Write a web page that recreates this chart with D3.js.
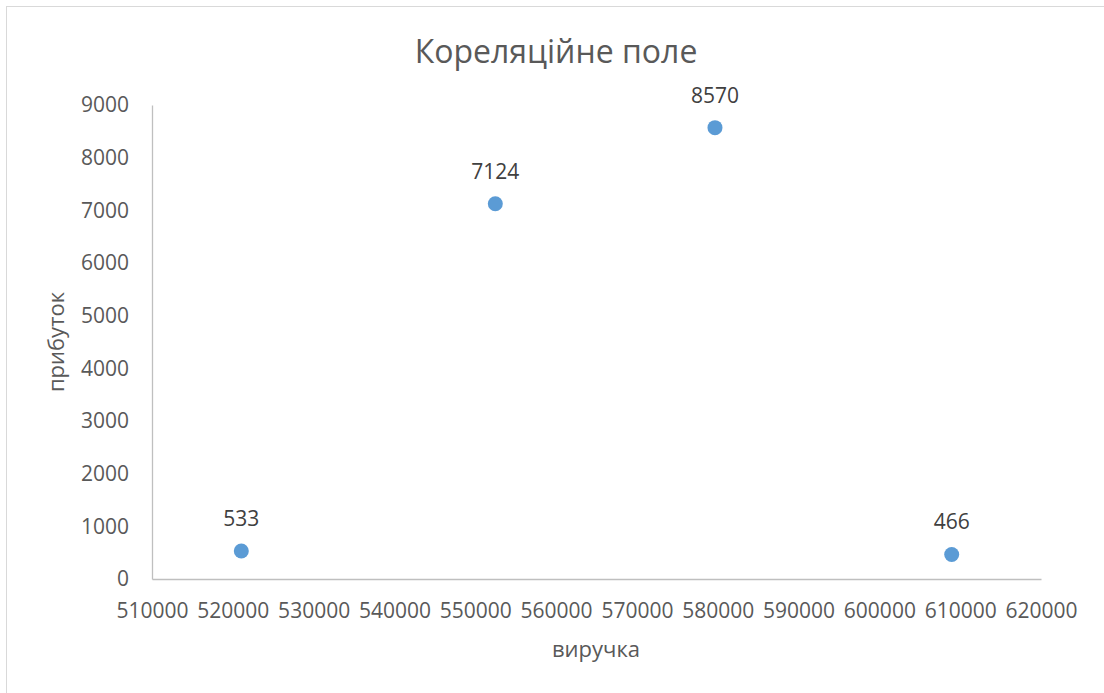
<!DOCTYPE html>
<html>
<head>
<meta charset="utf-8">
<script src="https://cdn.jsdelivr.net/npm/d3@7"></script>
<style>
  html, body { margin: 0; padding: 0; background: #fff; }
  svg { display: block; font-family: "Open Sans", "Liberation Sans", sans-serif; }
</style>
</head>
<body>
<svg id="chart" width="1104" height="693"></svg>
<script>
// Revenue (виручка) and profit (прибуток) observations
const revenue = [521050, 552480, 579660, 608950];
const profit = [533, 7124, 8570, 466];
const xTicks = [510000, 520000, 530000, 540000, 550000, 560000, 570000, 580000, 590000, 600000, 610000, 620000];
const yTicks = [0, 1000, 2000, 3000, 4000, 5000, 6000, 7000, 8000, 9000];

const svg = d3.select("#chart");
const W = 1104, H = 693;
const plot = { left: 152, right: 1041, top: 105, bottom: 579 };
const FONT = "'Open Sans', 'Liberation Sans', sans-serif";

// chart frame
svg.append("rect")
  .attr("x", 6.5).attr("y", 6.5)
  .attr("width", W + 10).attr("height", H + 10)
  .attr("fill", "#fff").attr("stroke", "#d9d9d9").attr("stroke-width", 1);

const x = d3.scaleLinear().domain([510000, 620000]).range([plot.left, plot.right]);
const y = d3.scaleLinear().domain([0, 9000]).range([plot.bottom, plot.top]);

// x axis
const xAxis = svg.append("g")
  .attr("transform", `translate(0,${plot.bottom})`)
  .call(d3.axisBottom(x).tickValues(xTicks).tickSize(0).tickPadding(24).tickFormat(d3.format("d")));
xAxis.select(".domain").attr("stroke", "#bfbfbf").attr("stroke-width", 1.3);
xAxis.selectAll("text").attr("fill", "#595959").style("font-size", "21px").attr("font-family", FONT);

// y axis
const yAxis = svg.append("g")
  .attr("transform", `translate(${plot.left},0)`)
  .call(d3.axisLeft(y).tickValues(yTicks).tickSize(0).tickPadding(23).tickFormat(d3.format("d")));
yAxis.select(".domain").attr("stroke", "#bfbfbf").attr("stroke-width", 1.3);
yAxis.selectAll("text").attr("fill", "#595959").style("font-size", "21px").attr("font-family", FONT);

// title
svg.append("text")
  .attr("x", 556).attr("y", 63)
  .attr("text-anchor", "middle")
  .attr("fill", "#595959")
  .style("font-size", "32px")
  .text("Кореляційне поле");

// axis titles
svg.append("text")
  .attr("x", 596).attr("y", 657)
  .attr("text-anchor", "middle")
  .attr("fill", "#595959")
  .style("font-size", "22px")
  .text("виручка");

svg.append("text")
  .attr("transform", `translate(64,342) rotate(-90)`)
  .attr("text-anchor", "middle")
  .attr("fill", "#595959")
  .style("font-size", "22px")
  .text("прибуток");

// points
const pts = revenue.map((r, i) => ({ r, p: profit[i] }));
svg.append("g").selectAll("circle")
  .data(pts).join("circle")
  .attr("cx", d => x(d.r))
  .attr("cy", d => y(d.p))
  .attr("r", 7.5)
  .attr("fill", "#5b9bd5");

// data labels
svg.append("g").selectAll("text")
  .data(pts).join("text")
  .attr("x", d => x(d.r))
  .attr("y", d => y(d.p) - 25)
  .attr("text-anchor", "middle")
  .attr("fill", "#404040")
  .style("font-size", "21px")
  .text(d => d.p);
</script>
</body>
</html>
